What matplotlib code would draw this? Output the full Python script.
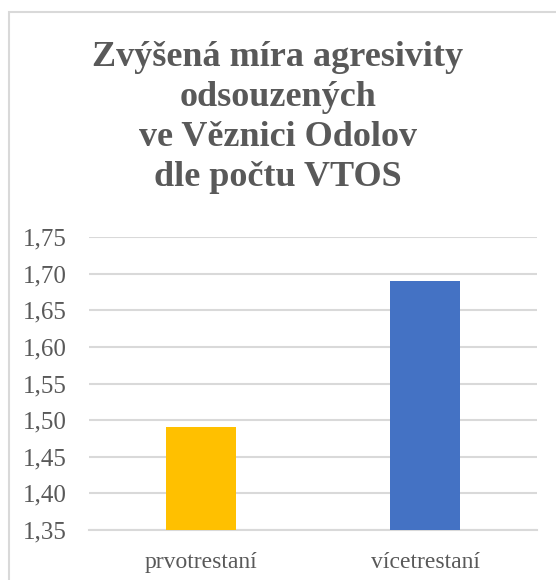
import matplotlib
matplotlib.use("Agg")
import matplotlib.pyplot as plt
from matplotlib.patches import Rectangle

# data
categories = ["prvotrestaní", "vícetrestaní"]
values = [1.49, 1.69]
colors = ["#FFC000", "#4472C4"]
yticks = [1.35, 1.40, 1.45, 1.50, 1.55, 1.60, 1.65, 1.70, 1.75]
title = "Zvýšená míra agresivity\nodsouzených\nve Věznici Odolov\ndle počtu VTOS"

plt.rcParams['font.family'] = ['Liberation Serif', 'DejaVu Serif']

fig = plt.figure(figsize=(5.56, 5.8), dpi=100)
ax = fig.add_axes([0.160, 0.0862, 0.806, 0.505])

ax.bar(range(len(categories)), values, width=0.31, color=colors, zorder=3)
ax.set_xlim(-0.5, len(categories) - 0.5)
ax.set_ylim(yticks[0], yticks[-1])
ax.set_yticks(yticks)
ax.set_yticklabels([f"{t:.2f}".replace(".", ",") for t in yticks])
ax.set_xticks(range(len(categories)))
ax.set_xticklabels(categories)
ax.tick_params(length=0, labelsize=18, colors="#595959")
ax.tick_params(axis="x", pad=16, labelsize=17)
ax.tick_params(axis="y", pad=16)
ax.grid(axis="y", color="#d9d9d9", lw=1.5, zorder=0)
for s in ["top", "right", "left"]:
    ax.spines[s].set_visible(False)
ax.spines["bottom"].set_color("#d9d9d9")
ax.spines["bottom"].set_linewidth(1.5)

fig.text(0.5, 0.93, title, ha="center", va="top", fontsize=26,
         fontweight="bold", color="#595959", linespacing=1.29)

# chart area border
fig.patches.append(Rectangle((9 / 556, -0.1), 1.2, 1 - 12 / 580 + 0.1,
                             transform=fig.transFigure, fill=False,
                             edgecolor="#d9d9d9", lw=1.5))

fig.savefig("out.png", dpi=100)
